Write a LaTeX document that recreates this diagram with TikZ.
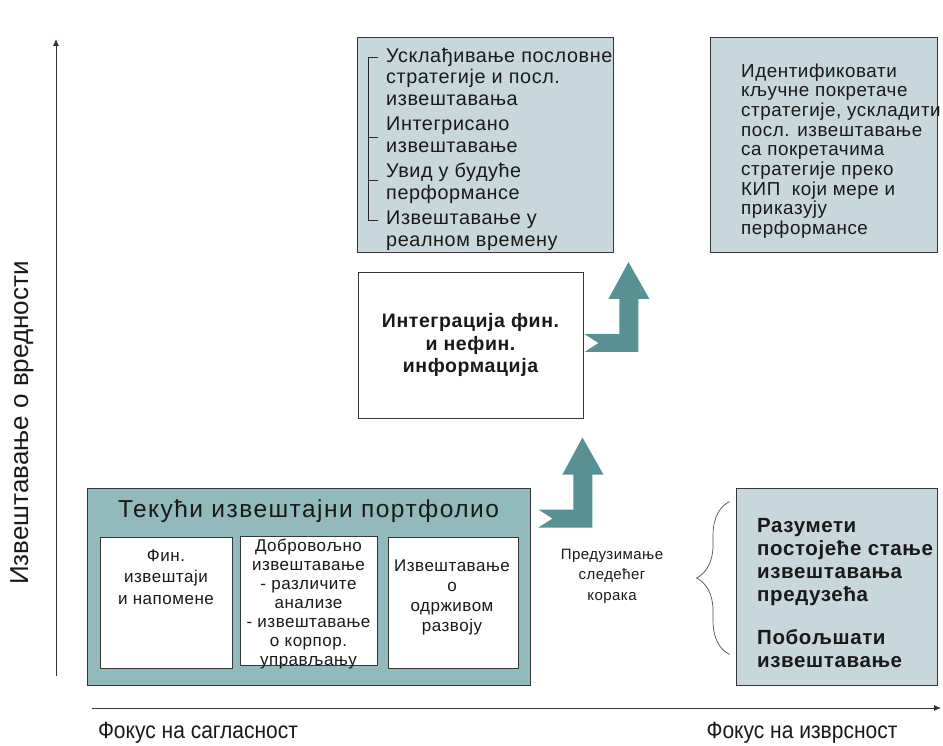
\documentclass[tikz,border=0pt]{standalone}
\usepackage{fontspec}
\setmainfont{Liberation Sans}
\newfontfamily\spaced{Liberation Sans}[LetterSpace=3]
\newfontfamily\widespaced{Liberation Sans}[LetterSpace=6]
\usetikzlibrary{arrows.meta, positioning, calc, decorations.pathreplacing}
\definecolor{tealfill}{RGB}{146,185,188}
\definecolor{lightfill}{RGB}{199,215,219}
\definecolor{arrowteal}{RGB}{88,144,148}
\definecolor{boxline}{RGB}{55,55,55}
\definecolor{txt}{RGB}{25,25,25}

\begin{document}
\begin{tikzpicture}[x=1pt, y=1pt,
  lightbox/.style={draw=boxline, fill=lightfill, line width=0.9pt, inner sep=0pt},
  tealbox/.style={draw=boxline, fill=tealfill, line width=0.9pt, inner sep=0pt},
  whitebox/.style={draw=boxline, fill=white, line width=0.9pt, inner sep=0pt},
  listtext/.style={inner sep=0pt, text=txt, align=left, font=\spaced\fontsize{19.8}{21.5}\selectfont},
  drivertext/.style={inner sep=0pt, text=txt, align=left, font=\spaced\fontsize{18.8}{19.7}\selectfont},
  boldtext/.style={inner sep=0pt, text=txt, align=center, font=\spaced\bfseries\fontsize{19.5}{22.5}\selectfont},
  smalltext/.style={inner sep=0pt, text=txt, align=center, font=\spaced\fontsize{17}{#1}\selectfont},
  smalltext/.default=19.5,
  titletext/.style={inner sep=0pt, text=txt, font=\widespaced\fontsize{24.5}{28}\selectfont},
  axislabel/.style={inner sep=0pt, text=txt, font=\fontsize{21}{25}\selectfont},
  bracket/.style={draw=black!85, line width=0.8pt},
  bigarrow/.style={fill=arrowteal},
  axis/.style={-{Latex[length=7pt, width=6pt]}, line width=0.8pt, black!80}
]
  \useasboundingbox (0,0) rectangle (943,745);

  % axes
  \coordinate (origin) at (56,69);
  \coordinate (ytop) at (56,706);
  \coordinate (xstart) at (92,37);
  \coordinate (xend) at (941,37);
  \draw[axis] (origin) -- (ytop);
  \draw[axis] (xstart) -- (xend);
  \node[axislabel, rotate=90, font=\fontsize{26}{30}\selectfont] (ylab) at (22,322) {Извештавање о вредности};
  \node[axislabel, yscale=1.12] (xlabl) at (198,12) {Фокус на сагласност};
  \node[axislabel, yscale=1.12] (xlabr) at (802,12) {Фокус на изврсност};

  % top row
  \node[lightbox, minimum width=256, minimum height=215] (goals) at (485,600.5) {};
  \node[listtext, anchor=west] (goalslist) at (386,596)
    {Усклађивање пословне\\стратегије и посл.\\извештавања\\[4pt]Интегрисано\\извештавање\\[4pt]Увид у будуће\\перформансе\\[4pt]Извештавање у\\реалном времену};
  \draw[bracket] (378,688) -- (368,688) -- (368,525) -- (378,525);
  \draw[bracket] (368,608) -- (378,608);
  \draw[bracket] (368,565) -- (378,565);

  \node[lightbox, minimum width=227, minimum height=215] (drivers) at (823.5,600.5) {};
  \node[drivertext, anchor=west] (driverslist) at (741,594)
    {Идентификовати\\кључне покретаче\\стратегије, ускладити\\посл. извештавање\\са покретачима\\стратегије преко\\КИП~ који мере и\\приказују\\перформансе};

  % middle
  \node[whitebox, boldtext, minimum width=225, minimum height=146] (integr) at (470.5,400)
    {Интеграција фин.\\и нефин.\\информација};

  % bottom left
  \node[tealbox, minimum width=443, minimum height=197] (portfolio) at (308.5,158.5) {};
  \node[titletext] (ptitle) at ($(portfolio.north)+(0,-24)$) {Текући извештајни портфолио};
  \node[whitebox, minimum width=132, minimum height=131] (fin) at (166,142.5) {};
  \node[whitebox, minimum width=137, minimum height=129] (volunt) at (308.5,144.5) {};
  \node[whitebox, minimum width=130, minimum height=131] (sustain) at (453,142.5) {};
  \node[smalltext=21.5] (fintext) at (166,168) {Фин.\\извештаји\\и напомене};
  \node[smalltext=19] (volunttext) at (308.5,141)
    {Добровољно\\извештавање\\- различите\\анализе\\- извештавање\\о корпор.\\управљању};
  \node[smalltext=20] (sustaintext) at (452,147.5) {Извештавање\\о\\одрживом\\развоју};

  % bottom right
  \node[lightbox, minimum width=201, minimum height=197] (steps) at (836.5,158.5) {};
  \node[boldtext, align=left, anchor=west, font=\spaced\bfseries\fontsize{20.5}{23}\selectfont] (stepslist) at (757,152)
    {Разумети\\постојеће стање\\извештавања\\предузећа\\[20pt]Побољшати\\извештавање};
  \draw[draw=black!70, line width=0.7pt, decorate, decoration={brace, amplitude=33pt}]
    ($(steps.west)+(-6,-68)$) -- ($(steps.west)+(-6,85)$);
  \node[smalltext=20.5, font=\spaced\fontsize{15}{20.5}\selectfont] (nextstep) at (612,169) {Предузимање\\следећег\\корака};

  % bent arrows
  \coordinate (a1) at ($(portfolio.north east)+(62,-40)$);
  \coordinate (a2) at ($(integr.east)+(55,-7)$);
  \foreach \a in {a1,a2}
    \fill[bigarrow] (\a) -- ++(-54,0) -- ++(14,9) -- ++(-14,9) -- ++(35,0) -- ++(0,35)
      -- ++(-11,0) -- ++(20,37) -- ++(21,-37) -- ++(-11,0) -- cycle;
\end{tikzpicture}
\end{document}
